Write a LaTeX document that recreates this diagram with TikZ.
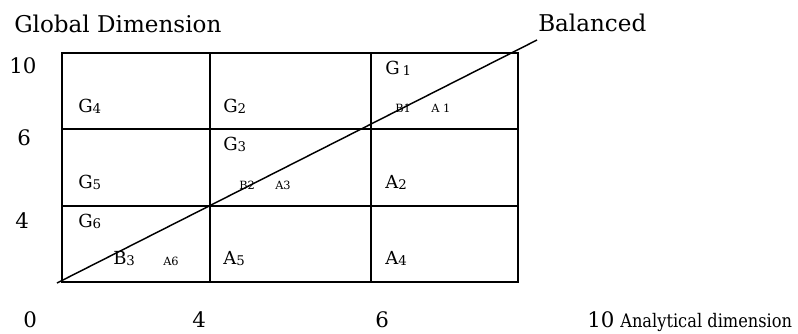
\documentclass[tikz,border=0pt]{standalone}
\usepackage{fontspec}
\setmainfont{DejaVu Serif}
\newcommand\subdig[1]{\raisebox{-0.8pt}{\fontsize{10}{12}\selectfont #1}}
\begin{document}
\begin{tikzpicture}[x=0.75pt,y=-0.75pt,
  axis/.style={anchor=base west,inner sep=0pt,font=\fontsize{17.3}{20}\selectfont},
  num/.style={anchor=base west,inner sep=0pt,font=\fontsize{16}{19}\selectfont},
  cell/.style={anchor=base west,inner sep=0pt,font=\fontsize{13.5}{16}\selectfont},
  tiny/.style={anchor=base west,inner sep=0pt,font=\fontsize{8.5}{10}\selectfont},
  grid/.style={line width=1.6pt},
  balance/.style={line width=1.1pt}
]
\useasboundingbox (0,0) rectangle (798,333);
% the grid
\draw[grid] (62,53) rectangle (518,282);
\draw[grid] (210,53) -- (210,282);
\draw[grid] (371,53) -- (371,282);
\draw[grid] (62,129) -- (518,129);
\draw[grid] (62,206) -- (518,206);
% axes texts
\node[axis] (global) at (14,32) {Global Dimension};
\node[axis] (balanced) at (538,31) {Balanced};
\node[num] (y10) at (9,73) {10};
\node[num] (y6) at (17,145) {6};
\node[num] (y4) at (15,228) {4};
\node[num] (x0) at (23,327) {0};
\node[num] (x4) at (192,327) {4};
\node[num] (x6) at (375,327) {6};
\node[num] (x10) at (587,327) {10};
\node[num,font=\fontsize{14}{17}\selectfont] (analytic) at (620,327) {\scalebox{0.87}[1]{Analytical dimension}};
% cells
\node[cell] (g1) at (385,74) {G\,\subdig{1}};
\node[tiny] (b1) at (395,112) {B1};
\node[tiny] (a1) at (431,112) {A 1};
\node[cell] (g4) at (78,112) {G\subdig{4}};
\node[cell] (g2) at (223,112) {G\subdig{2}};
\node[cell] (g3) at (223,150) {G\subdig{3}};
\node[cell] (g5) at (78,188) {G\subdig{5}};
\node[tiny] (b2) at (239,189) {B2};
\node[tiny] (a3) at (275,189) {A3};
\node[cell] (a2) at (385,188) {A\subdig{2}};
\node[cell] (g6) at (78,227) {G\subdig{6}};
\node[cell] (b3) at (113,264) {B\subdig{3}};
\node[tiny] (a6) at (163,265) {A6};
\node[cell] (a5) at (223,264) {A\subdig{5}};
\node[cell] (a4) at (385,264) {A\subdig{4}};
% balanced line
\coordinate (lo) at (57,283);
\coordinate (hi) at (537,40);
\draw[balance] (lo) -- (hi);
\end{tikzpicture}
\end{document}
